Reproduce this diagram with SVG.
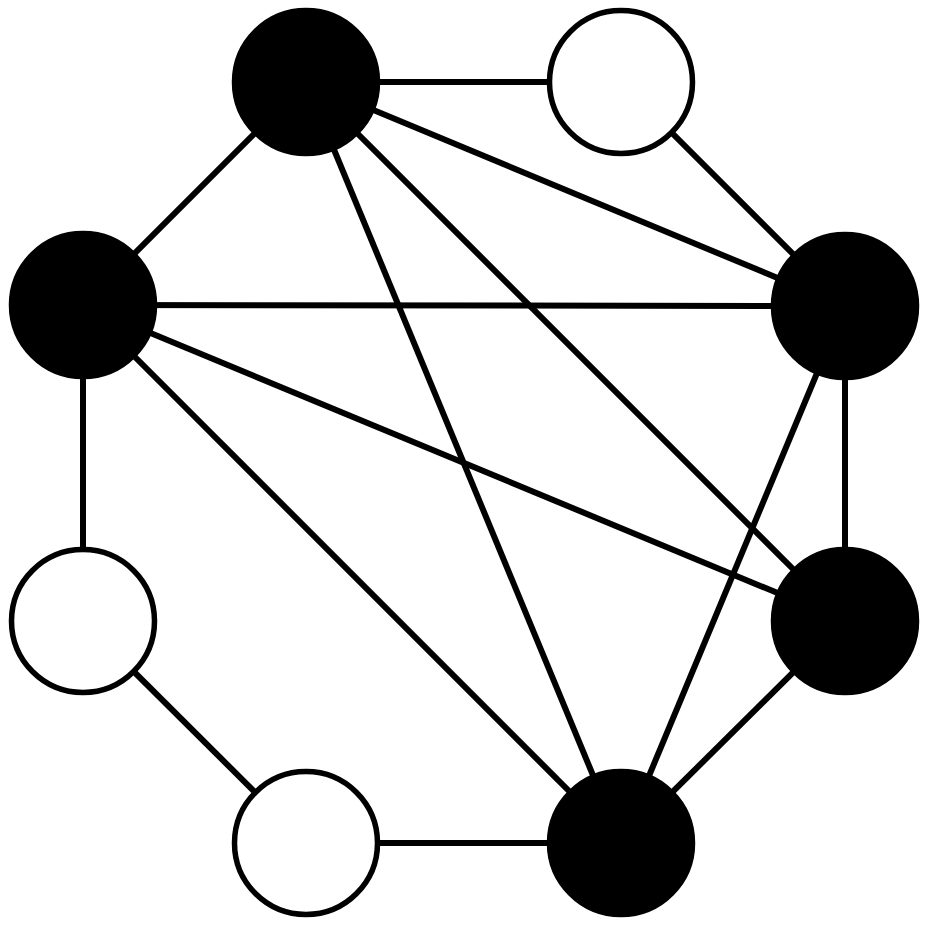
<svg xmlns="http://www.w3.org/2000/svg" width="925" height="925" viewBox="0 0 925 925">
<style>
.e{stroke:#000;stroke-width:6;fill:none}
.n{stroke:#000;stroke-width:5.5}
.b{fill:#000}
.w{fill:#fff}
</style>
<rect width="925" height="925" fill="#fff"/>
<g id="connectors" class="e">
<line x1="306" y1="82" x2="621" y2="82"/>
<line x1="621" y1="82" x2="845" y2="306"/>
<line x1="845" y1="306" x2="845" y2="621"/>
<line x1="845" y1="621" x2="621" y2="843"/>
<line x1="621" y1="843" x2="306" y2="843"/>
<line x1="306" y1="843" x2="83" y2="621"/>
<line x1="83" y1="621" x2="83" y2="305"/>
<line x1="83" y1="305" x2="306" y2="82"/>
<line x1="306" y1="82" x2="845" y2="306"/>
<line x1="306" y1="82" x2="845" y2="621"/>
<line x1="306" y1="82" x2="621" y2="843"/>
<line x1="83" y1="305" x2="845" y2="306"/>
<line x1="83" y1="305" x2="845" y2="621"/>
<line x1="83" y1="305" x2="621" y2="843"/>
<line x1="845" y1="306" x2="621" y2="843"/>
</g>
<g id="n1"><circle class="n b" cx="306" cy="82" r="71.5"/></g>
<g id="n2"><circle class="n w" cx="621" cy="82" r="71.5"/></g>
<g id="n3"><circle class="n b" cx="845" cy="306" r="71.5"/></g>
<g id="n4"><circle class="n b" cx="845" cy="621" r="71.5"/></g>
<g id="n5"><circle class="n b" cx="621" cy="843" r="71.5"/></g>
<g id="n6"><circle class="n w" cx="306" cy="843" r="71.5"/></g>
<g id="n7"><circle class="n w" cx="83" cy="621" r="71.5"/></g>
<g id="n8"><circle class="n b" cx="83" cy="305" r="71.5"/></g>
</svg>
